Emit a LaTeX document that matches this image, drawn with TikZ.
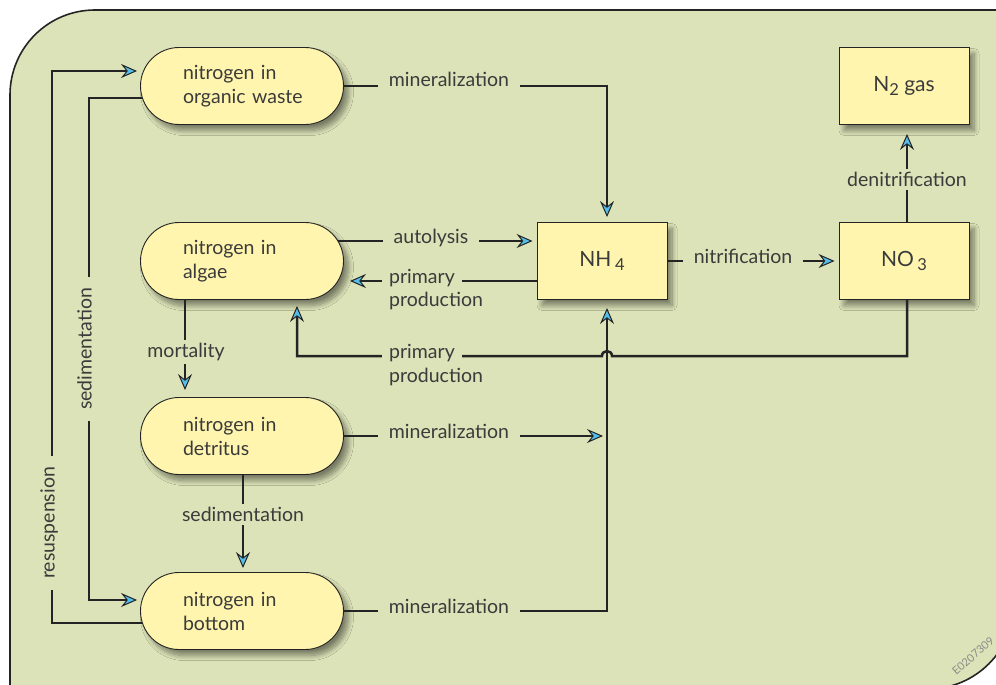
\documentclass[tikz,border=0pt]{standalone}
\usepackage{fontspec}
\setmainfont{Lato}
\usetikzlibrary{arrows.meta,calc,shadows.blur}

\definecolor{panel}{HTML}{DCE3B8}
\definecolor{boxfill}{HTML}{FFF5AE}
\definecolor{ink}{HTML}{242424}
\definecolor{textink}{HTML}{3B3B3B}
\definecolor{tipblue}{HTML}{55BDEA}

\tikzset{
  poolshadow/.style={blur shadow={shadow xshift=5pt, shadow yshift=-6pt,
      shadow blur radius=5pt, shadow blur steps=10, shadow opacity=45}},
  pool/.style={draw=ink, line width=0.9pt, fill=boxfill, rounded corners=38.5pt,
      minimum width=203pt, minimum height=77pt, text width=118pt, align=left,
      inner sep=0pt, text=textink, font=\fontsize{19.5}{24}\selectfont, poolshadow},
  specbox/.style={draw=ink, line width=0.9pt, fill=boxfill,
      minimum width=130pt, minimum height=77pt, inner sep=0pt,
      text=textink, font=\fontsize{21}{24}\selectfont, poolshadow},
  flow/.style={draw=ink, line width=2.5pt},
  flowto/.style={flow, -{Stealth[length=16pt, width=14pt, inset=5.5pt,
      fill=tipblue, line width=1pt]}},
  lbl/.style={fill=panel, inner xsep=11pt, inner ysep=3pt, text=textink,
      font=\fontsize{19.5}{22}\selectfont},
}
\newcommand{\chemsub}[1]{\raisebox{-0.45ex}{\fontsize{16.5}{18}\selectfont #1}}

\begin{document}
\begin{tikzpicture}[x=1pt, y=-1pt]
\useasboundingbox (0,0) rectangle (996,685);
\begin{scope}
\clip (0,0) rectangle (996,685);

% panel with two rounded corners
\filldraw[fill=panel, draw=ink, line width=1.6pt]
  (10,689) -- (10,95) .. controls (10,48) and (48,10) .. (95,10)
  -- (1014,10) -- (1014,603) .. controls (1014,650.5) and (975.5,689) .. (928,689)
  -- cycle;

% nitrogen pools
\node[pool] (waste)    at (242,86)  {nitrogen in\\\mbox{organic waste}};
\node[pool] (algae)    at (242,261) {nitrogen in\\algae};
\node[pool] (detritus) at (242,436) {nitrogen in\\detritus};
\node[pool] (bottom)   at (242,611) {nitrogen in\\bottom};

% inorganic species
\node[specbox] (nh4) at (602,261) {NH\,\chemsub{4}};
\node[specbox] (no3) at (904,261) {NO\,\chemsub{3}};
\node[specbox] (n2)  at (904,86)  {N\chemsub{2}\ gas};

\coordinate (jx) at (607,0);

% mineralization into NH4
\draw[flowto, shorten >=5pt] (waste.east) -| (nh4.north -| jx);
\draw[flowto, shorten >=4pt] (detritus.east) -- (detritus.east -| jx);
\draw[flowto, shorten >=8pt] (bottom.east) -| (nh4.south -| jx);

% algae <-> NH4
\draw[flowto, shorten >=4pt] ([xshift=-6pt, yshift=20pt]algae.east) -- ([yshift=20pt]nh4.west);
\draw[flowto, shorten >=12pt] ([yshift=-20pt]nh4.west) -- ([xshift=-6pt, yshift=-20pt]algae.east);

% NO3 back to algae, hopping over the mineralization line
\draw[flowto, shorten >=6pt] ([xshift=3pt]no3.south) -- (907,356) -- (612,356)
  .. controls (612,349.5) and (602,349.5) .. (602,356)
  -- (297,356) -- (algae.south -| 297,0);

% nitrification and denitrification
\draw[flowto, shorten >=4pt] (nh4.east) -- (no3.west);
\draw[flowto, shorten >=9pt] ([xshift=3pt]no3.north) -- ([xshift=3pt]n2.south);

% vertical transfers between pools
\draw[flowto, shorten >=7pt] ([xshift=-57pt]algae.south) -- ([xshift=-57pt]detritus.north);
\draw[flowto, shorten >=4pt] ([xshift=1pt]detritus.south) -- ([xshift=1pt]bottom.north);

% sedimentation and resuspension loops on the left
\draw[flowto, shorten >=5pt] ([xshift=2pt, yshift=-12pt]waste.west) -- (89,98) -- (89,600)
  -- ([xshift=2pt, yshift=11pt]bottom.west);
\draw[flowto, shorten >=5pt] ([xshift=2pt, yshift=-12pt]bottom.west) -- (52,623) -- (52,71)
  -- ([xshift=2pt, yshift=15pt]waste.west);

% process labels
\node[lbl, anchor=mid] at (449,84)  {mineralization};
\node[lbl, anchor=mid] at (449,436) {mineralization};
\node[lbl, anchor=mid] at (449,611) {mineralization};
\node[lbl, anchor=mid] at (431,241) {autolysis};
\node[lbl, anchor=mid west, inner xsep=7pt] at (382,281) {primary};
\node[lbl, anchor=mid west, inner xsep=7pt] at (382,304) {production};
\node[lbl, anchor=mid west, inner xsep=7pt] at (382,356) {primary};
\node[lbl, anchor=mid west, inner xsep=7pt] at (382,380) {production};
\node[lbl, anchor=mid] at (743,261) {nitrification};
\node[lbl, anchor=mid, inner xsep=6pt] at (907,184) {denitrification};
\node[lbl, anchor=mid] at (186,355) {mortality};
\node[lbl, anchor=mid] at (243,519) {sedimentation};
\node[lbl, anchor=mid, rotate=90] at (89,349)  {sedimentation};
\node[lbl, anchor=mid, rotate=90] at (52,523) {resuspension};

% figure code
\node[text=black!45, font=\fontsize{11}{12}\selectfont, rotate=41, inner sep=0pt] at (973,656) {E0207309};
\end{scope}
\end{tikzpicture}
\end{document}
